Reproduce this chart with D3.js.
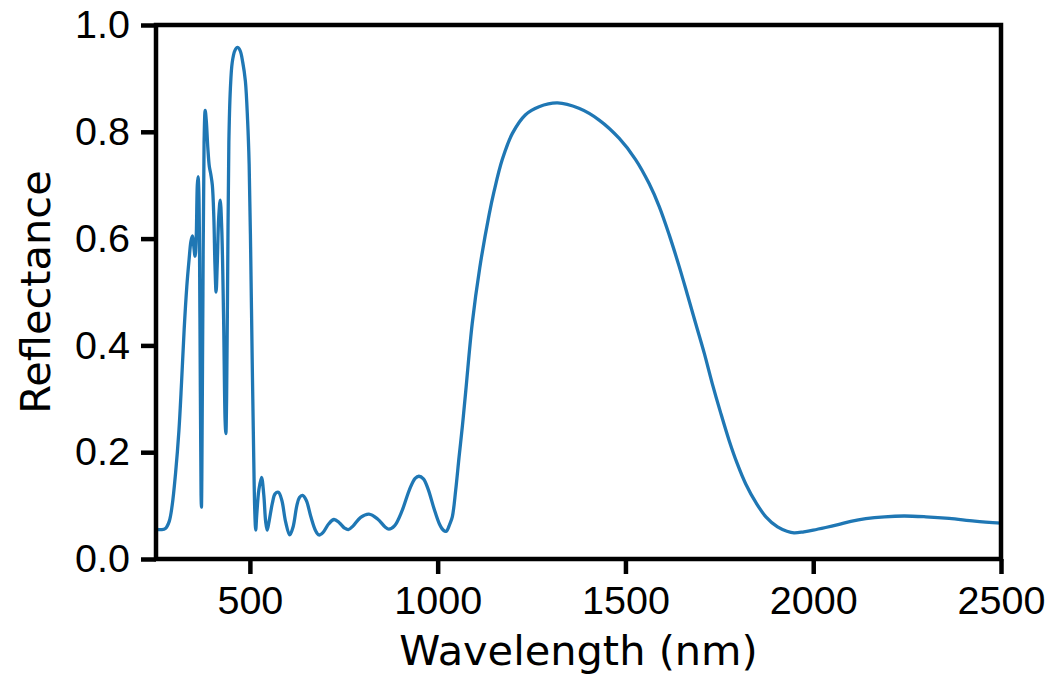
<html>
<head>
  <script src="https://cdnjs.cloudflare.com/ajax/libs/d3/7.8.5/d3.min.js"></script>
  <style>
    body { margin: 0; background: #fff; }
    svg { font-family: "DejaVu Sans", sans-serif; }
    .axis text { font-size: 39.5px; fill: #000; }
    .axis line, .axis path { stroke: #000; }
  </style>
</head>
<body>
<div id="chart"></div>
<script>
  // wavelength (nm) and reflectance
  var wavelength = [250, 265, 275, 285, 293, 302, 311, 318, 325, 332, 338, 343, 347, 350, 354, 357, 360, 362, 364, 367,
    370, 371, 372, 375, 378, 381, 384, 388, 392, 396, 400, 404, 407, 410, 413, 417, 421, 425, 430, 434,
    436, 438, 441, 444, 448, 453, 460, 467, 474, 481, 488, 494, 498, 502, 506, 510, 513, 515.5, 518, 524,
    531, 537, 542, 546, 551, 560, 567, 576, 585, 595, 606, 615, 625, 632, 640, 650, 662, 675, 684, 695,
    710, 724, 738, 752, 762, 775, 795, 817, 840, 860, 870, 885, 905, 925, 940, 950, 962, 975, 990, 1005,
    1015, 1023, 1032, 1039, 1048, 1057, 1066, 1075, 1092, 1112, 1137, 1150, 1172, 1199, 1234, 1270, 1319, 1376, 1430, 1483,
    1527, 1563, 1590, 1617, 1643, 1665, 1687, 1710, 1731, 1753, 1776, 1798, 1820, 1848, 1874, 1905, 1930, 1949,
    1975, 2000, 2033, 2069, 2100, 2140, 2190, 2242, 2300, 2362, 2430, 2500];
  var reflectance = [0.056, 0.055, 0.057, 0.07, 0.10, 0.16, 0.24, 0.33, 0.43, 0.51, 0.56, 0.595, 0.605, 0.59, 0.567, 0.60, 0.70, 0.716, 0.69, 0.45,
    0.12, 0.097, 0.15, 0.50, 0.78, 0.84, 0.82, 0.77, 0.735, 0.72, 0.70, 0.64, 0.55, 0.50, 0.55, 0.64, 0.672, 0.62, 0.45, 0.26,
    0.235, 0.30, 0.55, 0.78, 0.88, 0.93, 0.952, 0.958, 0.952, 0.93, 0.895, 0.82, 0.74, 0.58, 0.38, 0.20, 0.09, 0.054, 0.08, 0.13,
    0.153, 0.12, 0.07, 0.054, 0.07, 0.105, 0.122, 0.125, 0.11, 0.07, 0.045, 0.06, 0.10, 0.115, 0.119, 0.11, 0.08, 0.053, 0.045, 0.05,
    0.066, 0.074, 0.068, 0.058, 0.055, 0.062, 0.078, 0.084, 0.075, 0.06, 0.056, 0.062, 0.09, 0.13, 0.151, 0.155, 0.15, 0.13, 0.095, 0.065,
    0.054, 0.052, 0.065, 0.079, 0.129, 0.191, 0.25, 0.316, 0.441, 0.545, 0.645, 0.688, 0.748, 0.797, 0.832, 0.847, 0.854, 0.844, 0.822, 0.788,
    0.748, 0.703, 0.660, 0.606, 0.548, 0.495, 0.441, 0.385, 0.329, 0.275, 0.222, 0.178, 0.141, 0.105, 0.079, 0.06, 0.052, 0.049,
    0.051, 0.054, 0.059, 0.065, 0.0705, 0.0755, 0.0790, 0.0805, 0.079, 0.076, 0.071, 0.067];
  var xTicks = [500, 1000, 1500, 2000, 2500];
  var yTicks = [0, 0.2, 0.4, 0.6, 0.8, 1.0];

  var data = wavelength.map(function(w, i) { return { w: w, r: reflectance[i] }; });

  var svgWidth = 1060, svgHeight = 675;
  var margin = { top: 25, right: 59, bottom: 116, left: 156 };
  var width = svgWidth - margin.left - margin.right;
  var height = svgHeight - margin.top - margin.bottom;

  var svg = d3.select("#chart").append("svg")
    .attr("width", svgWidth)
    .attr("height", svgHeight);
  var chart = svg.append("g")
    .attr("transform", "translate(" + margin.left + "," + margin.top + ")");

  var xScale = d3.scaleLinear().domain([250, 2500]).range([0, width]);
  var yScale = d3.scaleLinear().domain([0, 1]).range([height, 0]);

  // the curve
  var line = d3.line()
    .x(function(d) { return xScale(d.w); })
    .y(function(d) { return yScale(d.r); })
    .curve(d3.curveCatmullRom.alpha(0.5));

  chart.append("path")
    .datum(data)
    .attr("fill", "none")
    .attr("stroke", "#1f77b4")
    .attr("stroke-width", 3.3)
    .attr("stroke-linejoin", "round")
    .attr("d", line);

  // frame
  chart.append("rect")
    .attr("width", width)
    .attr("height", height)
    .attr("fill", "none")
    .attr("stroke", "#000")
    .attr("stroke-width", 4.5);

  // axes
  var xAxis = d3.axisBottom(xScale).tickValues(xTicks).tickSize(15).tickPadding(12).tickFormat(d3.format("d"));
  var yAxis = d3.axisLeft(yScale).tickValues(yTicks).tickSize(15).tickPadding(11).tickFormat(d3.format(".1f"));

  var gx = chart.append("g")
    .attr("class", "axis")
    .attr("transform", "translate(0," + height + ")")
    .call(xAxis);
  var gy = chart.append("g")
    .attr("class", "axis")
    .call(yAxis);
  gx.select(".domain").remove();
  gy.select(".domain").remove();
  chart.selectAll(".axis line").attr("stroke-width", 4.5);

  // axis titles
  chart.append("text")
    .attr("x", width / 2)
    .attr("y", height + 106)
    .attr("text-anchor", "middle")
    .style("font-size", "41.5px")
    .text("Wavelength (nm)");

  chart.append("text")
    .attr("transform", "translate(" + (50 - margin.left) + "," + (height / 2) + ") rotate(-90)")
    .attr("text-anchor", "middle")
    .style("font-size", "41.5px")
    .text("Reflectance");
</script>
</body>
</html>
